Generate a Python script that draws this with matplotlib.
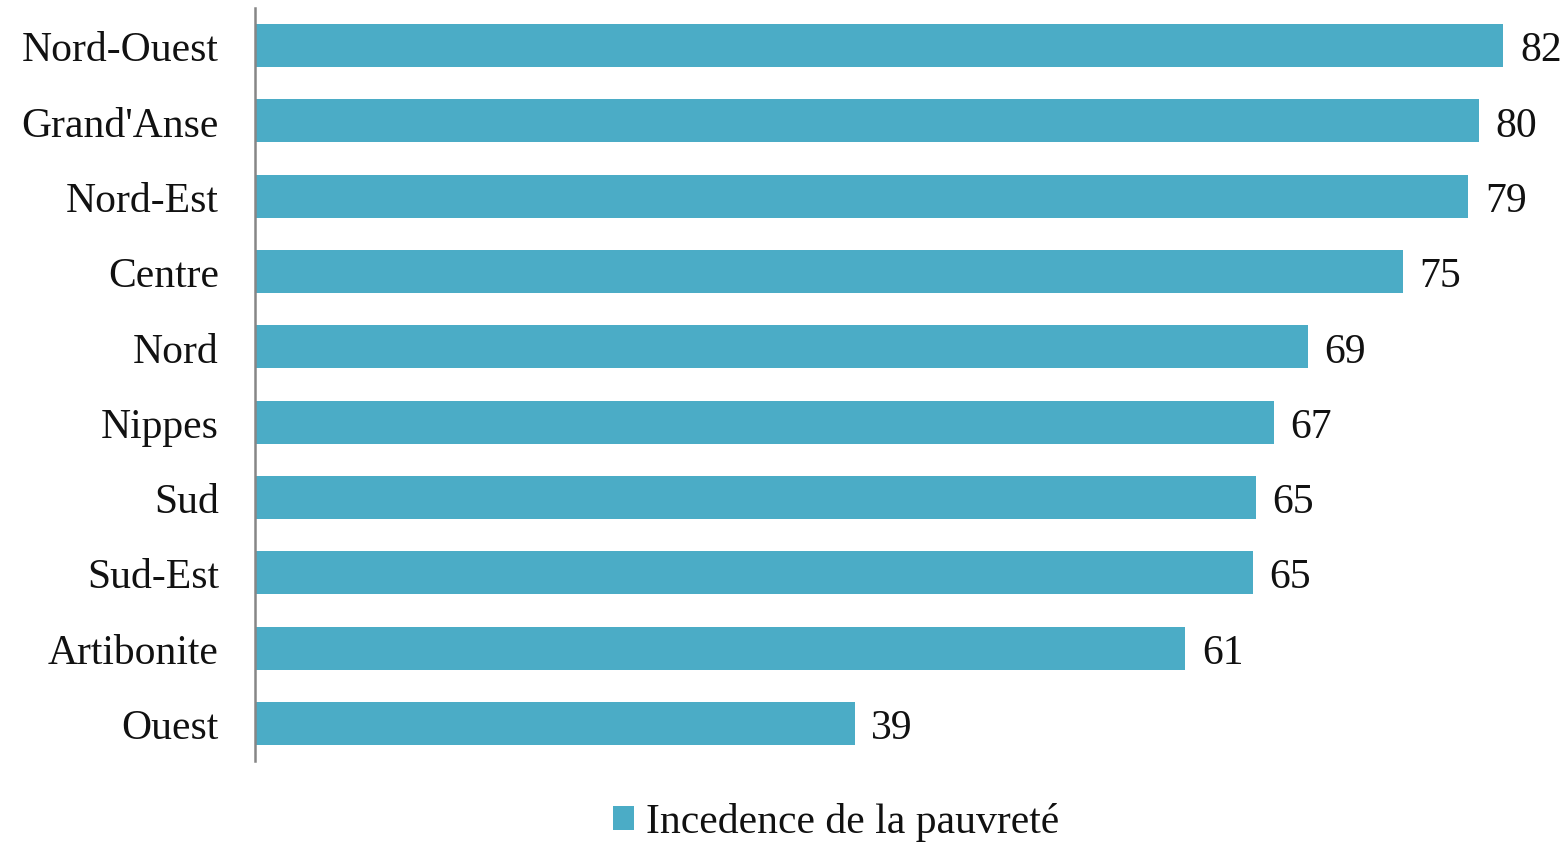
import matplotlib.pyplot as plt
from matplotlib.patches import Patch

# regions, top to bottom
regions = ['Nord-Ouest', "Grand'Anse", 'Nord-Est', 'Centre', 'Nord',
           'Nippes', 'Sud', 'Sud-Est', 'Artibonite', 'Ouest']
# incidence of poverty (%), bar lengths
incidence = [81.6, 80.0, 79.3, 75.0, 68.8, 66.6, 65.4, 65.2, 60.8, 39.2]
series_name = 'Incedence de la pauvreté'

bar_color = '#4BACC6'
plt.rcParams['font.family'] = ['Liberation Serif', 'DejaVu Serif']
fsize = 30

fig = plt.figure(figsize=(15.68, 8.45), dpi=100)
ax = fig.add_axes([255 / 1568, 83 / 845, 1313 / 1568, 753 / 845])

ypos = list(range(len(regions)))
ax.barh(ypos, incidence, height=0.57, color=bar_color)
for y, v in zip(ypos, incidence):
    ax.annotate('%d' % round(v), (v, y), xytext=(12, 0),
                textcoords='offset points', ha='left', va='center_baseline',
                fontsize=fsize, color='#111111', annotation_clip=False)

ax.set_ylim(len(regions) - 0.5, -0.5)
ax.set_xlim(0, 1313 / 15.3)
ax.set_yticks(ypos)
ax.set_yticklabels(regions, fontsize=fsize, color='#111111')
ax.tick_params(axis='y', length=0, pad=26)
ax.set_xticks([])

for s in ['top', 'right', 'bottom']:
    ax.spines[s].set_visible(False)
ax.spines['left'].set_color('#868686')
ax.spines['left'].set_linewidth(1.8)

handle = Patch(facecolor=bar_color, edgecolor='none')
fig.legend([handle], [series_name], loc='center',
           bbox_to_anchor=(836 / 1568, 22 / 845), frameon=False,
           fontsize=fsize, handlelength=0.5, handleheight=0.5,
           handletextpad=0.28, borderpad=0, labelcolor='#111111')

fig.savefig('out.png', dpi=100)
